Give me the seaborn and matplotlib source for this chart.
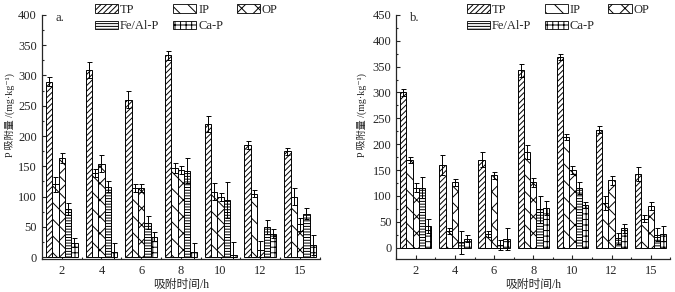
import numpy as np
import pandas as pd
import matplotlib
matplotlib.use('Agg')
import matplotlib.pyplot as plt
import seaborn as sns
from matplotlib.patches import Patch
from matplotlib.ticker import MultipleLocator, FixedLocator

# ---- data ----
times = ['2', '4', '6', '8', '10', '12', '15']
fractions = ['TP', 'IP', 'OP', 'Fe/Al-P', 'Ca-P']

# panel a.
a_TP = [290, 309, 260, 333, 220, 185, 175]
a_IP = [120, 139, 114, 147, 108, 105, 100]
a_OP = [164, 154, 114, 144, 99, 12, 54]
a_FeAl = [79, 116, 57, 143, 94, 50, 72]
a_CaP = [24, 8, 34, 9, 4, 39, 20]
a_TP_err = [7, 14, 14, 7, 13, 6, 6]
a_IP_err = [13, 6, 7, 8, 14, 6, 14]
a_OP_err = [8, 14, 7, 7, 7, 15, 10]
a_FeAl_err = [10, 9, 11, 21, 30, 11, 9]
a_CaP_err = [8, 15, 7, 14, 21, 8, 16]

# panel b.
b_TP = [300, 160, 170, 343, 369, 228, 142]
b_IP = [170, 32, 27, 185, 214, 86, 56]
b_OP = [116, 126, 140, 126, 150, 130, 81]
b_FeAl = [116, 10, 5, 74, 115, 18, 25]
b_CaP = [42, 17, 17, 77, 82, 37, 27]
b_TP_err = [6, 20, 14, 13, 6, 7, 13]
b_IP_err = [6, 6, 6, 14, 6, 14, 7]
b_OP_err = [8, 6, 7, 8, 7, 8, 8]
b_FeAl_err = [21, 22, 10, 26, 11, 11, 13]
b_CaP_err = [14, 7, 21, 14, 6, 8, 15]

hatches = ['//////', '\\\\', 'xx', '------', '+++']

sns.set_style('ticks')
plt.rcParams['font.family'] = ['Liberation Serif', 'Noto Sans CJK SC', 'DejaVu Sans']
plt.rcParams['font.size'] = 9
plt.rcParams['hatch.linewidth'] = 0.7
plt.rcParams['xtick.direction'] = 'in'
plt.rcParams['ytick.direction'] = 'in'


def long_df(vals, errs):
    rows = []
    for f, v, e in zip(fractions, vals, errs):
        for t, vi, ei in zip(times, v, e):
            rows.append({'time': t, 'fraction': f, 'value': vi, 'err': ei})
    return pd.DataFrame(rows)


df_a = long_df([a_TP, a_IP, a_OP, a_FeAl, a_CaP],
               [a_TP_err, a_IP_err, a_OP_err, a_FeAl_err, a_CaP_err])
df_b = long_df([b_TP, b_IP, b_OP, b_FeAl, b_CaP],
               [b_TP_err, b_IP_err, b_OP_err, b_FeAl_err, b_CaP_err])

fig = plt.figure(figsize=(6.75, 2.92), dpi=100)
ax_a = fig.add_axes([0.062, 0.113, 0.412, 0.836])
ax_b = fig.add_axes([0.587, 0.113, 0.406, 0.836])


def draw(ax, df, ylim, ymax_tick, label, leg_x, ylab_x):
    sns.barplot(data=df, x='time', y='value', hue='fraction', order=times,
                hue_order=fractions, palette=['white'] * 5, edgecolor='black',
                linewidth=0.7, errorbar=None, width=0.8, gap=0, legend=False,
                ax=ax)
    for cont, h, f in zip(ax.containers, hatches, fractions):
        sub = df[df['fraction'] == f].set_index('time').loc[times]
        xs = []
        for p in cont.patches:
            p.set_hatch(h)
            xs.append(p.get_x() + p.get_width() / 2)
        ax.errorbar(xs, sub['value'].values, yerr=sub['err'].values, fmt='none',
                    ecolor='black', elinewidth=0.7, capsize=1.8, capthick=0.7)
    ax.set_xlim(-0.5, 6.5)
    ax.set_ylim(*ylim)
    ax.yaxis.set_major_locator(FixedLocator(np.arange(0, ymax_tick + 1, 50)))
    ax.yaxis.set_minor_locator(MultipleLocator(25))
    ax.xaxis.set_minor_locator(FixedLocator(np.arange(-0.5, 7, 1)))
    ax.tick_params(axis='both', which='major', length=3, width=0.8, labelsize=9)
    ax.tick_params(axis='both', which='minor', length=1.5, width=0.8)
    ax.tick_params(axis='x', pad=4)
    sns.despine(ax=ax)
    for s in ['left', 'bottom']:
        ax.spines[s].set_linewidth(0.9)
    ax.set_xlabel('吸附时间/h', fontsize=8.5, labelpad=2)
    ax.set_ylabel('P 吸附量 /(mg·kg⁻¹)', fontsize=7.2)
    ax.yaxis.set_label_coords(ylab_x, 0.59)
    ax.text(0.05, 1.01, label, transform=ax.transAxes, va='top', ha='left',
            fontsize=9)
    handles = {f: Patch(facecolor='white', edgecolor='black', linewidth=0.6,
                        hatch=h, label=f) for h, f in zip(hatches, fractions)}
    # column-major order so the rows read TP IP OP / Fe/Al-P Ca-P
    leg_order = ['TP', 'Fe/Al-P', 'IP', 'Ca-P', 'OP']
    ax.legend(handles=[handles[k] for k in leg_order], ncol=3, frameon=False,
              loc='upper center', bbox_to_anchor=(leg_x, 1.05), fontsize=9,
              handlelength=1.85, handleheight=0.65, handletextpad=0.15,
              columnspacing=1.1, labelspacing=0.35, borderaxespad=0,
              borderpad=0.1)


draw(ax_a, df_a, (-3, 400), 400, 'a.', 0.52, -0.097)
draw(ax_b, df_b, (-22, 450), 450, 'b.', 0.59, -0.106)

fig.savefig('out.png', dpi=100)
